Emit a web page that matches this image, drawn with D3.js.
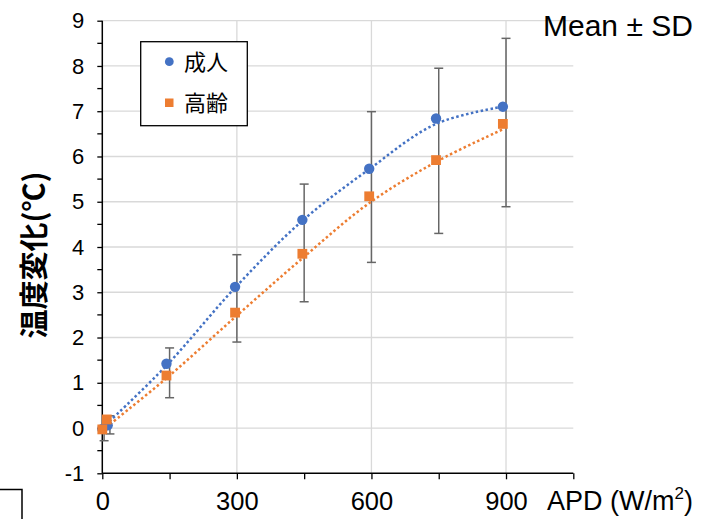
<!DOCTYPE html>
<html>
<head>
<meta charset="utf-8">
<script src="https://cdn.jsdelivr.net/npm/d3@7"></script>
<style>
  html, body { margin: 0; padding: 0; background: #fff; }
  svg { display: block; }
</style>
</head>
<body>
<svg id="chart" width="702" height="519"></svg>
<script>
// ---- data ----
const seriesNames = ["成人", "高齢"];
const adultX = [0, 12, 143, 296, 446, 595, 744, 893];
const adultY = [-0.02, 0.06, 1.42, 3.12, 4.60, 5.73, 6.84, 7.10];
const elderX = [0, 10, 143, 296, 446, 595, 744, 893];
const elderY = [-0.03, 0.19, 1.16, 2.55, 3.85, 5.12, 5.92, 6.72];
// dotted trend lines
const adultTrendX = [0, 143, 296, 446, 595, 744, 893];
const adultTrendY = [0.0, 1.38, 3.10, 4.58, 5.72, 6.72, 7.10];
const elderTrendX = [0, 143, 296, 446, 595, 744, 893];
const elderTrendY = [-0.05, 1.10, 2.45, 3.75, 4.97, 5.88, 6.60];
// error bars (Mean ± SD extents)
const errX = [4, 17, 150, 300, 450, 600, 750, 900];
const errLo = [-0.28, -0.13, 0.67, 1.90, 2.79, 3.66, 4.30, 4.89];
const errHi = [0.05, 0.27, 1.77, 3.83, 5.39, 6.99, 7.95, 8.61];
// axes
const yTicks = [-1, 0, 1, 2, 3, 4, 5, 6, 7, 8, 9];
const yMinor = [-0.5, 0.5, 1.5, 2.5, 3.5, 4.5, 5.5, 6.5, 7.5, 8.5];
const xTicks = [0, 150, 300, 450, 600, 750, 900, 1050];
const xLabels = [0, 300, 600, 900];
const xGrid = [300, 600, 900];
const yTitle = "温度変化(℃)";
const xTitle = "APD (W/m";
const noteText = "Mean ± SD";

// ---- drawing ----
const svg = d3.select("#chart");
const x = d3.scaleLinear().domain([0, 1050]).range([102.3, 573.3]);
const y = d3.scaleLinear().domain([-1, 9]).range([473.3, 20.7]);
const blue = "#4472C4", orange = "#ED7D31", grid = "#D9D9D9", errColor = "#666666";
const latin = "'Liberation Sans', Arial, sans-serif";
const cjk = "'Noto Sans CJK JP', 'Noto Sans CJK SC', sans-serif";

// grid
svg.append("g").selectAll("line").data(yTicks.filter(d => d > -1)).join("line")
  .attr("x1", x(0)).attr("x2", x(1050))
  .attr("y1", d => y(d)).attr("y2", d => y(d))
  .attr("stroke", grid).attr("stroke-width", 1.3);
svg.append("g").selectAll("line").data(xGrid).join("line")
  .attr("x1", d => x(d)).attr("x2", d => x(d))
  .attr("y1", y(9)).attr("y2", y(-1))
  .attr("stroke", grid).attr("stroke-width", 1.3);

// axes
const yAxis = svg.append("g").attr("transform", `translate(${x(0)},0)`)
  .call(d3.axisLeft(y).tickValues(yTicks).tickSize(5).tickPadding(13).tickFormat(d => String(d)));
yAxis.append("g").selectAll("line").data(yMinor).join("line")
  .attr("x1", -5).attr("x2", 0).attr("y1", d => y(d)).attr("y2", d => y(d))
  .attr("stroke", "#000").attr("stroke-width", 1.3);
const xAxis = svg.append("g").attr("transform", `translate(0,${y(-1)})`)
  .call(d3.axisBottom(x).tickValues(xTicks).tickSize(6).tickPadding(13)
    .tickFormat(d => xLabels.includes(d) ? String(d) : ""));
[yAxis, xAxis].forEach(g => {
  g.select(".domain").attr("stroke", "#000").attr("stroke-width", 1.5);
  g.selectAll(".tick line").attr("stroke", "#000").attr("stroke-width", 1.3);
  g.selectAll("text").attr("fill", "#000").attr("font-family", latin);
});
yAxis.selectAll(".tick text").attr("font-size", 22);
xAxis.selectAll(".tick text").attr("font-size", 25.5);
yAxis.select(".domain").attr("d", `M0,${y(-1)}V${y(9)}`);
xAxis.select(".domain").attr("d", `M${x(0)},0H${x(1050)}`);

// error bars
const eb = svg.append("g").attr("stroke", errColor).attr("stroke-width", 1.5);
errX.forEach((ex, i) => {
  eb.append("line").attr("x1", x(ex)).attr("x2", x(ex)).attr("y1", y(errLo[i])).attr("y2", y(errHi[i]));
  [errLo[i], errHi[i]].forEach(v => {
    eb.append("line").attr("x1", x(ex) - 4.5).attr("x2", x(ex) + 4.5).attr("y1", y(v)).attr("y2", y(v));
  });
});

// trend lines
const line = d3.line().x(d => x(d[0])).y(d => y(d[1])).curve(d3.curveCatmullRom.alpha(0.5));
svg.append("path").datum(adultTrendX.map((v, i) => [v, adultTrendY[i]]))
  .attr("d", line).attr("fill", "none").attr("stroke", blue)
  .attr("stroke-width", 2.5).attr("stroke-dasharray", "2.5,2.5");
svg.append("path").datum(elderTrendX.map((v, i) => [v, elderTrendY[i]]))
  .attr("d", line).attr("fill", "none").attr("stroke", orange)
  .attr("stroke-width", 2.5).attr("stroke-dasharray", "2.5,2.5");

// markers
svg.append("g").selectAll("circle").data(adultX.map((v, i) => [v, adultY[i]])).join("circle")
  .attr("cx", d => x(d[0])).attr("cy", d => y(d[1])).attr("r", 5.2).attr("fill", blue);
svg.append("g").selectAll("rect").data(elderX.map((v, i) => [v, elderY[i]])).join("rect")
  .attr("x", d => x(d[0]) - 4.9).attr("y", d => y(d[1]) - 4.9)
  .attr("width", 9.8).attr("height", 9.8).attr("fill", orange);

// legend
const lg = svg.append("g");
lg.append("rect").attr("x", 140.7).attr("y", 41.7).attr("width", 106.6).attr("height", 84)
  .attr("fill", "#fff").attr("stroke", "#000").attr("stroke-width", 1.3);
lg.append("circle").attr("cx", 169.3).attr("cy", 61.7).attr("r", 4.4).attr("fill", blue);
lg.append("rect").attr("x", 165).attr("y", 98.5).attr("width", 8.5).attr("height", 8.5).attr("fill", orange);
lg.append("text").attr("x", 184).attr("y", 70).text(seriesNames[0])
  .attr("font-family", cjk).attr("font-size", 22).attr("fill", "#000");
lg.append("text").attr("x", 184).attr("y", 111).text(seriesNames[1])
  .attr("font-family", cjk).attr("font-size", 22).attr("fill", "#000");

// y title
svg.append("text").attr("transform", "translate(45,255) rotate(-90)")
  .attr("text-anchor", "middle").attr("font-family", cjk).attr("font-weight", "bold")
  .attr("font-size", 29).attr("fill", "#000").text(yTitle);

// x title
const xt = svg.append("text").attr("x", 547).attr("y", 510)
  .attr("font-family", latin).attr("font-size", 27).attr("fill", "#000");
xt.append("tspan").text(xTitle);
xt.append("tspan").attr("dy", -11).attr("font-size", 17).text("2");
xt.append("tspan").attr("dy", 11).text(")");

// note
svg.append("text").attr("x", 543).attr("y", 35.5)
  .attr("font-family", latin).attr("font-size", 30).attr("fill", "#000").text(noteText);

// partial frame at bottom-left
svg.append("path").attr("d", "M0,489.5H22V519").attr("fill", "none")
  .attr("stroke", "#000").attr("stroke-width", 1.5);
</script>
</body>
</html>
